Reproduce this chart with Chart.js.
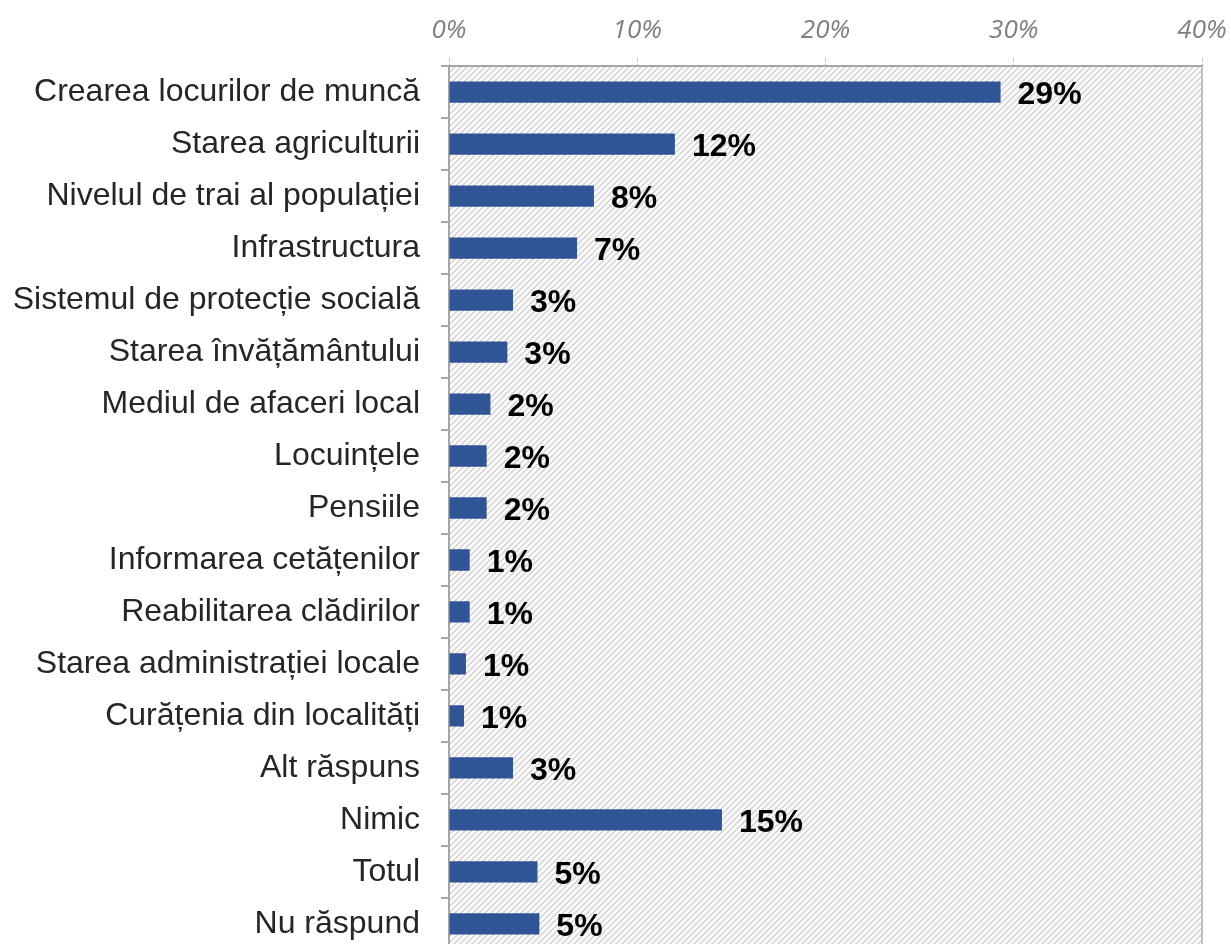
<!DOCTYPE html>
<html lang="ro">
<head>
    <meta charset="UTF-8">
    <title>Probleme prioritare</title>
    <script src="https://cdn.jsdelivr.net/npm/chart.js"></script>
    <style>
        html, body { margin: 0; padding: 0; background: #fff; overflow: hidden; }
        .chart-wrapper { width: 1231px; height: 990px; }
    </style>
</head>
<body>
    <div class="chart-wrapper">
        <canvas id="myChart" width="1231" height="990"></canvas>
    </div>

    <script>
        const categories = [
            'Crearea locurilor de muncă',
            'Starea agriculturii',
            'Nivelul de trai al populației',
            'Infrastructura',
            'Sistemul de protecție socială',
            'Starea învățământului',
            'Mediul de afaceri local',
            'Locuințele',
            'Pensiile',
            'Informarea cetățenilor',
            'Reabilitarea clădirilor',
            'Starea administrației locale',
            'Curățenia din localități',
            'Alt răspuns',
            'Nimic',
            'Totul',
            'Nu răspund'
        ];
        const values = [29.3, 12.0, 7.7, 6.8, 3.4, 3.1, 2.2, 2.0, 2.0, 1.1, 1.1, 0.9, 0.8, 3.4, 14.5, 4.7, 4.8];
        const tickLabels = ['0%', '10%', '20%', '30%', '40%'];

        // diagonal hatch for the plot area
        function makeHatch() {
            const c = document.createElement('canvas');
            c.width = 6;
            c.height = 6;
            const g = c.getContext('2d');
            g.fillStyle = '#ffffff';
            g.fillRect(0, 0, 6, 6);
            g.strokeStyle = '#d6d6d6';
            g.lineWidth = 1.6;
            g.beginPath();
            g.moveTo(-1, 7); g.lineTo(7, -1);
            g.moveTo(-4, 4); g.lineTo(4, -4);
            g.moveTo(2, 10); g.lineTo(10, 2);
            g.stroke();
            return g.createPattern(c, 'repeat');
        }

        const hatchPlugin = {
            id: 'hatchPlugin',
            beforeDraw(chart) {
                const {ctx, chartArea} = chart;
                ctx.save();
                ctx.fillStyle = makeHatch();
                ctx.fillRect(chartArea.left, chartArea.top, chartArea.right - chartArea.left, chartArea.bottom - chartArea.top);
                ctx.restore();
            },
            afterDraw(chart) {
                const {ctx, chartArea} = chart;
                ctx.save();
                ctx.strokeStyle = '#bfbfbf';
                ctx.lineWidth = 2;
                ctx.beginPath();
                ctx.moveTo(chartArea.right, chartArea.top);
                ctx.lineTo(chartArea.right, chartArea.bottom);
                ctx.stroke();
                ctx.restore();
            }
        };

        const valueLabels = {
            id: 'valueLabels',
            afterDatasetsDraw(chart) {
                const {ctx} = chart;
                const meta = chart.getDatasetMeta(0);
                ctx.save();
                ctx.font = 'bold 32px "Liberation Sans", Arial, sans-serif';
                ctx.fillStyle = '#000000';
                ctx.textAlign = 'left';
                ctx.textBaseline = 'middle';
                meta.data.forEach((bar, i) => {
                    ctx.fillText(Math.round(values[i]) + '%', bar.x + 17, bar.y + 3);
                });
                ctx.restore();
            }
        };

        const ctx = document.getElementById('myChart').getContext('2d');
        const myChart = new Chart(ctx, {
            type: 'bar',
            data: {
                labels: categories,
                datasets: [{
                    data: values,
                    backgroundColor: '#2F5597',
                    borderColor: '#2F5597',
                    borderWidth: 0,
                    barPercentage: 0.41,
                    categoryPercentage: 1
                }]
            },
            options: {
                indexAxis: 'y',
                responsive: false,
                devicePixelRatio: 1,
                animation: false,
                layout: {
                    padding: { top: 3, right: 29, bottom: 3, left: 0 }
                },
                plugins: {
                    legend: { display: false },
                    tooltip: { enabled: false }
                },
                scales: {
                    x: {
                        position: 'top',
                        min: 0,
                        max: 40,
                        afterFit: function(scale) {
                            scale.paddingRight = 0;
                        },
                        ticks: {
                            stepSize: 10,
                            padding: 12,
                            color: '#7f7f7f',
                            font: { family: '"Open Sans", "Liberation Sans", sans-serif', size: 26, style: 'italic' },
                            callback: function(value, index) {
                                return tickLabels[index];
                            }
                        },
                        grid: {
                            drawOnChartArea: false,
                            tickLength: 8,
                            color: '#a6a6a6',
                            tickBorderDash: [1, 1]
                        },
                        border: {
                            color: '#a6a6a6',
                            width: 2,
                            dash: [1, 1]
                        }
                    },
                    y: {
                        afterFit: function(scale) {
                            scale.width = 449;
                        },
                        ticks: {
                            autoSkip: false,
                            padding: 21,
                            color: '#262626',
                            font: { family: '"Liberation Sans", Arial, sans-serif', size: 32 }
                        },
                        grid: {
                            offset: true,
                            drawOnChartArea: false,
                            tickLength: 8,
                            color: '#a6a6a6',
                            lineWidth: 2
                        },
                        border: {
                            color: '#a6a6a6',
                            width: 2
                        }
                    }
                }
            },
            plugins: [hatchPlugin, valueLabels]
        });
    </script>
</body>
</html>
